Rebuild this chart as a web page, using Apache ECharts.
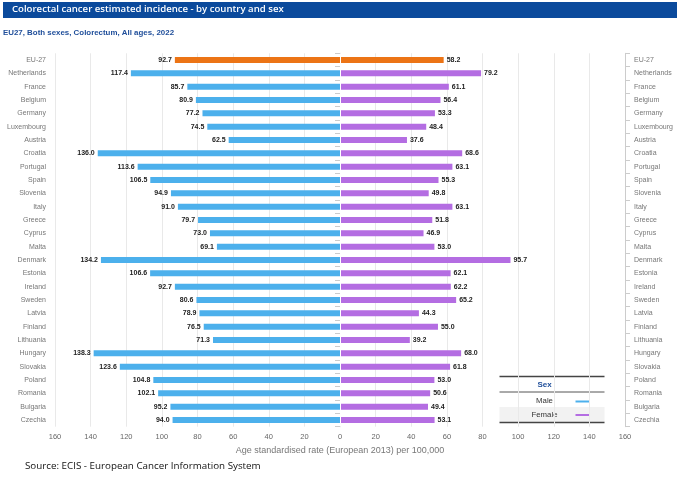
<!DOCTYPE html>
<html>
<head>
<meta charset="utf-8">
<script src="https://cdn.jsdelivr.net/npm/echarts@6/dist/echarts.min.js"></script>
<style>
  html, body { margin: 0; padding: 0; background: #fff; }
  #chart { width: 680px; height: 477px; }
</style>
</head>
<body>
<div id="chart"></div>
<script>
// countries, top to bottom
var countries = ['EU-27', 'Netherlands', 'France', 'Belgium', 'Germany', 'Luxembourg', 'Austria',
  'Croatia', 'Portugal', 'Spain', 'Slovenia', 'Italy', 'Greece', 'Cyprus', 'Malta', 'Denmark',
  'Estonia', 'Ireland', 'Sweden', 'Latvia', 'Finland', 'Lithuania', 'Hungary', 'Slovakia',
  'Poland', 'Romania', 'Bulgaria', 'Czechia'];
var male = [92.7, 117.4, 85.7, 80.9, 77.2, 74.5, 62.5, 136.0, 113.6, 106.5, 94.9, 91.0, 79.7, 73.0,
  69.1, 134.2, 106.6, 92.7, 80.6, 78.9, 76.5, 71.3, 138.3, 123.6, 104.8, 102.1, 95.2, 94.0];
var female = [58.2, 79.2, 61.1, 56.4, 53.3, 48.4, 37.6, 68.6, 63.1, 55.3, 49.8, 63.1, 51.8, 46.9,
  53.0, 95.7, 62.1, 62.2, 65.2, 44.3, 55.0, 39.2, 68.0, 61.8, 53.0, 50.6, 49.4, 53.1];

var BLUE = '#4cb0ec', PURPLE = '#b46de2', ORANGE = '#ec7415';
var AXIS_GREY = '#666666';

function barData(values, sign) {
  return values.map(function (v, i) {
    var item = { value: sign * v };
    if (countries[i] === 'EU-27') item.itemStyle = { color: ORANGE };
    return item;
  });
}

var chart = echarts.init(document.getElementById('chart'));

var catAxis = {
  type: 'category',
  data: countries,
  inverse: true,
  axisLine: { show: true, lineStyle: { color: '#cccccc' } },
  axisTick: { show: true, length: 5, lineStyle: { color: '#cccccc' } },
  axisLabel: { color: '#777777', fontSize: 7, fontFamily: 'Liberation Sans, Arial', margin: 9 }
};

function legendText(txt, x, y, style) {
  return { type: 'text', x: x, y: y,
    style: Object.assign({ text: txt, fill: '#333333', font: '7.8px "Liberation Sans"',
      align: 'center', verticalAlign: 'middle' }, style || {}) };
}

chart.setOption({
  animation: false,
  textStyle: { fontFamily: 'Liberation Sans, Arial' },
  grid: { left: 55, right: 55, top: 53.3, bottom: 50.3 },
  xAxis: {
    type: 'value',
    min: -160,
    max: 160,
    interval: 20,
    name: 'Age standardised rate (European 2013) per 100,000',
    nameLocation: 'middle',
    nameGap: 19,
    nameTextStyle: { color: '#777777', fontSize: 9 },
    axisLine: { show: false },
    axisTick: { show: false },
    splitLine: { show: true, lineStyle: { color: '#e9e9e9' } },
    axisLabel: {
      color: AXIS_GREY, fontSize: 7.5, margin: 6,
      formatter: function (v) { return Math.abs(v); }
    }
  },
  yAxis: [
    Object.assign({}, catAxis, { position: 'left' }),
    Object.assign({}, catAxis, { position: 'right' })
  ],
  series: [
    {
      name: 'Male',
      type: 'bar',
      barWidth: 6,
      barGap: '-100%',
      itemStyle: { color: BLUE },
      data: barData(male, -1),
      label: {
        show: true, position: 'left', distance: 3,
        color: '#222', fontSize: 7, fontWeight: 'bold',
        formatter: function (p) { return Math.abs(p.value).toFixed(1); }
      },
      markLine: {
        silent: true, symbol: 'none', label: { show: false },
        lineStyle: { color: '#ffffff', width: 1, type: 'solid' },
        data: [{ xAxis: 0 }]
      }
    },
    {
      name: 'Female',
      type: 'bar',
      barWidth: 6,
      itemStyle: { color: PURPLE },
      data: barData(female, 1),
      label: {
        show: true, position: 'right', distance: 3,
        color: '#222', fontSize: 7, fontWeight: 'bold',
        formatter: function (p) { return p.value.toFixed(1); }
      }
    }
  ],
  graphic: [
    // header bar
    { type: 'rect', shape: { x: 3, y: 2, width: 674, height: 16 }, style: { fill: '#0b4a9c' } },
    { type: 'text', left: 12, top: 4.5,
      style: { text: 'Colorectal cancer estimated incidence - by country and sex', fill: '#ffffff',
        font: '600 9.6px "Open Sans"' } },
    { type: 'text', left: 3, top: 29,
      style: { text: 'EU27, Both sexes, Colorectum, All ages, 2022', fill: '#1f4e9a',
        font: 'bold 7.9px "Liberation Sans"' } },
    { type: 'text', left: 25, top: 461,
      style: { text: 'Source: ECIS - European Cancer Information System', fill: '#111111',
        font: '9.8px "Open Sans"' } },
    // legend table
    { type: 'group', left: 497, top: 374, children: [
      { type: 'rect', shape: { x: 0, y: 0, width: 105, height: 48 }, style: { fill: '#ffffff' } },
      { type: 'rect', shape: { x: 0, y: 31.5, width: 105, height: 15 }, style: { fill: '#f2f2f2' } },
      { type: 'line', shape: { x1: 0, y1: 1, x2: 105, y2: 1 }, style: { stroke: '#444444', lineWidth: 1.6 } },
      { type: 'line', shape: { x1: 0, y1: 16.5, x2: 105, y2: 16.5 }, style: { stroke: '#555555', lineWidth: 1 } },
      { type: 'line', shape: { x1: 0, y1: 47, x2: 105, y2: 47 }, style: { stroke: '#444444', lineWidth: 1.6 } },
      legendText('Sex', 45, 9.5, { fill: '#1f4e9a', font: 'bold 8px "Liberation Sans"' }),
      legendText('Male', 45, 25),
      { type: 'line', shape: { x1: 76, y1: 26, x2: 90, y2: 26 }, style: { stroke: BLUE, lineWidth: 2 } },
      legendText('Female', 45, 39.5),
      { type: 'line', shape: { x1: 76, y1: 39.5, x2: 90, y2: 39.5 }, style: { stroke: PURPLE, lineWidth: 2 } }
    ] }
  ]
});
</script>
</body>
</html>
